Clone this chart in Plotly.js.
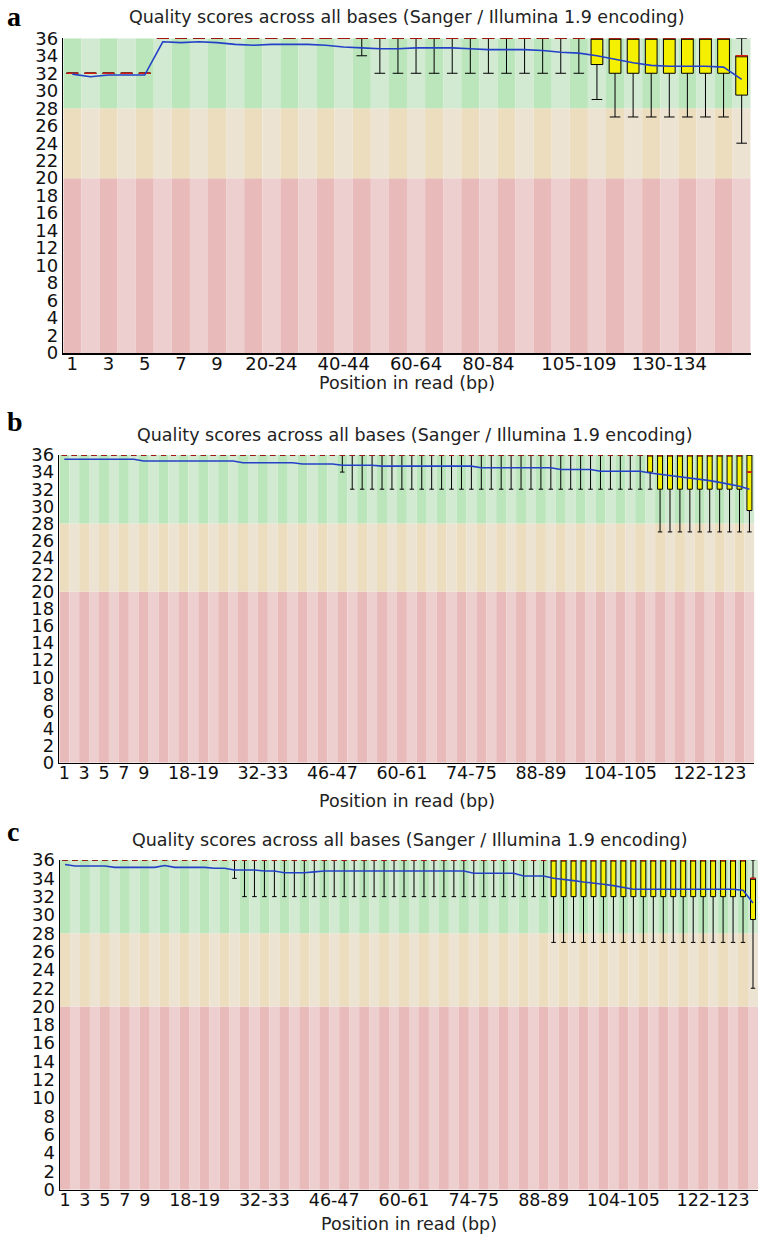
<!DOCTYPE html>
<html><head><meta charset="utf-8">
<script src="https://cdn.plot.ly/plotly-3.0.1.min.js"></script>
<style>html,body{margin:0;padding:0;background:#fff}#chart{width:765px;height:1238px}</style>
</head><body><div id="chart"></div>
<script>
// ================= DATA =================
// Panel a : per-position quality (Sanger / Illumina 1.9)
const catsA = ['1','2','3','4','5','6','7','8','9','10-14','15-19','20-24','25-29','30-34','35-39','40-44','45-49','50-54','55-59','60-64','65-69','70-74','75-79','80-84','85-89','90-94','95-99','100-104','105-109','110-114','115-119','120-124','125-129','130-134','135-139','140-144','145-149','150-151'];
const ticksA = ['1','3','5','7','9','20-24','40-44','60-64','80-84','105-109','130-134'];
const meanA = [31.9,31.6,31.8,31.8,31.8,35.6,35.5,35.6,35.5,35.3, 35.2,35.3,35.3,35.3,35.2,35.0,34.9,34.8,34.8,34.9, 34.9,34.9,34.8,34.7,34.7,34.7,34.6,34.4,34.3,34.0, 33.6,33.2,32.9,32.8,32.8,32.8,32.7,31.3];
const medA  = [32,32,32,32,32,36,36,36,36,36, 36,36,36,36,36,36,36,36,36,36, 36,36,36,36,36,36,36,36,36,36, 36,36,36,36,36,36,36,34];
const q1A   = [32,32,32,32,32,36,36,36,36,36, 36,36,36,36,36,36,36,36,36,36, 36,36,36,36,36,36,36,36,36,33, 32,32,32,32,32,32,32,29.5];
const q3A   = [32,32,32,32,32,36,36,36,36,36, 36,36,36,36,36,36,36,36,36,36, 36,36,36,36,36,36,36,36,36,36, 36,36,36,36,36,36,36,34];
const lowA  = [32,32,32,32,32,36,36,36,36,36, 36,36,36,36,36,36,34,32,32,32, 32,32,32,32,32,32,32,32,32,29, 27,27,27,27,27,27,27,24];
const highA = [32,32,32,32,32,36,36,36,36,36, 36,36,36,36,36,36,36,36,36,36, 36,36,36,36,36,36,36,36,36,36, 36,36,36,36,36,36,36,36];

// Panel b
const catsB = ['1','2','3','4','5','6','7','8','9','10-11','12-13','14-15','16-17','18-19','20-21','22-23','24-25','26-27','28-29','30-31','32-33','34-35','36-37','38-39','40-41','42-43','44-45','46-47','48-49','50-51','52-53','54-55','56-57','58-59','60-61','62-63','64-65','66-67','68-69','70-71','72-73','74-75','76-77','78-79','80-81','82-83','84-85','86-87','88-89','90-91','92-93','94-95','96-97','98-99','100-101','102-103','104-105','106-107','108-109','110-111','112-113','114-115','116-117','118-119','120-121','122-123','124-125','126-127','128-129','130-131'];
const ticksB = ['1','3','5','7','9','18-19','32-33','46-47','60-61','74-75','88-89','104-105','122-123'];
const meanB = [35.5,35.5,35.5,35.5,35.5,35.5,35.5,35.5,35.3,35.3, 35.3,35.3,35.3,35.3,35.3,35.3,35.3,35.3,35.1,35.1, 35.1,35.1,35.1,35.1,34.95,34.95,34.95,34.95,34.8,34.8, 34.8,34.8,34.7,34.7,34.7,34.7,34.7,34.7,34.7,34.7, 34.7,34.7,34.5,34.5,34.5,34.5,34.5,34.5,34.5,34.5, 34.3,34.3,34.3,34.3,34.1,34.1,34.1,34.1,34.1,33.9, 33.75,33.6,33.5,33.35,33.2,33.0,32.8,32.55,32.35,32.0];
const medB  = [36,36,36,36,36,36,36,36,36,36, 36,36,36,36,36,36,36,36,36,36, 36,36,36,36,36,36,36,36,36,36, 36,36,36,36,36,36,36,36,36,36, 36,36,36,36,36,36,36,36,36,36, 36,36,36,36,36,36,36,36,36,36, 36,36,36,36,36,36,36,36,36,34];
const q1B   = [36,36,36,36,36,36,36,36,36,36, 36,36,36,36,36,36,36,36,36,36, 36,36,36,36,36,36,36,36,36,36, 36,36,36,36,36,36,36,36,36,36, 36,36,36,36,36,36,36,36,36,36, 36,36,36,36,36,36,36,36,36,34, 32,32,32,32,32,32,32,32,32,29.5];
const q3B   = [36,36,36,36,36,36,36,36,36,36, 36,36,36,36,36,36,36,36,36,36, 36,36,36,36,36,36,36,36,36,36, 36,36,36,36,36,36,36,36,36,36, 36,36,36,36,36,36,36,36,36,36, 36,36,36,36,36,36,36,36,36,36, 36,36,36,36,36,36,36,36,36,36];
const lowB  = [36,36,36,36,36,36,36,36,36,36, 36,36,36,36,36,36,36,36,36,36, 36,36,36,36,36,36,36,36,34,32, 32,32,32,32,32,32,32,32,32,32, 32,32,32,32,32,32,32,32,32,32, 32,32,32,32,32,32,32,32,32,32, 27,27,27,27,27,27,27,27,27,27];
const highB = [36,36,36,36,36,36,36,36,36,36, 36,36,36,36,36,36,36,36,36,36, 36,36,36,36,36,36,36,36,36,36, 36,36,36,36,36,36,36,36,36,36, 36,36,36,36,36,36,36,36,36,36, 36,36,36,36,36,36,36,36,36,36, 36,36,36,36,36,36,36,36,36,36];

// Panel c
const catsC = catsB;
const ticksC = ['1','3','5','7','9','18-19','32-33','46-47','60-61','74-75','88-89','104-105','122-123'];
const meanC = [35.5,35.35,35.35,35.35,35.35,35.2,35.2,35.2,35.2,35.2, 35.4,35.2,35.2,35.2,35.2,35.1,35.1,34.9,34.9,34.9, 34.8,34.8,34.6,34.6,34.6,34.7,34.8,34.8,34.8,34.8, 34.8,34.8,34.8,34.8,34.8,34.8,34.8,34.8,34.8,34.8, 34.8,34.55,34.55,34.55,34.55,34.55,34.25,34.25,34.25,34.0, 33.9,33.75,33.6,33.5,33.35,33.2,33.0,32.8,32.8,32.8, 32.8,32.8,32.8,32.8,32.8,32.8,32.8,32.8,32.7,31.3];
const medC  = [36,36,36,36,36,36,36,36,36,36, 36,36,36,36,36,36,36,36,36,36, 36,36,36,36,36,36,36,36,36,36, 36,36,36,36,36,36,36,36,36,36, 36,36,36,36,36,36,36,36,36,36, 36,36,36,36,36,36,36,36,36,36, 36,36,36,36,36,36,36,36,36,34];
const q1C   = [36,36,36,36,36,36,36,36,36,36, 36,36,36,36,36,36,36,36,36,36, 36,36,36,36,36,36,36,36,36,36, 36,36,36,36,36,36,36,36,36,36, 36,36,36,36,36,36,36,36,36,32, 32,32,32,32,32,32,32,32,32,32, 32,32,32,32,32,32,32,32,32,29.5];
const q3C   = [36,36,36,36,36,36,36,36,36,36, 36,36,36,36,36,36,36,36,36,36, 36,36,36,36,36,36,36,36,36,36, 36,36,36,36,36,36,36,36,36,36, 36,36,36,36,36,36,36,36,36,36, 36,36,36,36,36,36,36,36,36,36, 36,36,36,36,36,36,36,36,36,34];
const lowC  = [36,36,36,36,36,36,36,36,36,36, 36,36,36,36,36,36,36,34,32,32, 32,32,32,32,32,32,32,32,32,32, 32,32,32,32,32,32,32,32,32,32, 32,32,32,32,32,32,32,32,32,27, 27,27,27,27,27,27,27,27,27,27, 27,27,27,27,27,27,27,27,27,22];
const highC = [36,36,36,36,36,36,36,36,36,36, 36,36,36,36,36,36,36,36,36,36, 36,36,36,36,36,36,36,36,36,36, 36,36,36,36,36,36,36,36,36,36, 36,36,36,36,36,36,36,36,36,36, 36,36,36,36,36,36,36,36,36,36, 36,36,36,36,36,36,36,36,36,36];

// Quality band edges (red / orange / green)
const bandEdges = [0, 20, 28, 36];

// ================= STYLE / LAYOUT =================
const W = 765, H = 1238;
const bandDark  = ['rgb(232,186,186)', 'rgb(235,221,190)', 'rgb(187,229,187)'];
const bandLight = ['rgb(237,207,207)', 'rgb(237,227,211)', 'rgb(210,233,210)'];
const FONT = 'DejaVu Sans, Verdana, sans-serif';
const titleText = 'Quality scores across all bases (Sanger / Illumina 1.9 encoding)';

const panels = [
  {id:'', letter:'a', cats:catsA, ticks:ticksA, mean:meanA, med:medA, q1:q1A, q3:q3A, lo:lowA, hi:highA,
   px:{l:63.3, r:750.7, t:38.3, b:353}, boxW:0.65, tickSize:18, ytickSize:18,
   titleY:17, titleX:407, xtitleY:383, letterY:17},
  {id:'2', letter:'b', cats:catsB, ticks:ticksB, mean:meanB, med:medB, q1:q1B, q3:q3B, lo:lowB, hi:highB,
   px:{l:59.3, r:754.4, t:455, b:762.7}, boxW:0.5, tickSize:17.5, ytickSize:18,
   titleY:435, titleX:415, xtitleY:801, letterY:422},
  {id:'3', letter:'c', cats:catsC, ticks:ticksC, mean:meanC, med:medC, q1:q1C, q3:q3C, lo:lowC, hi:highC,
   px:{l:60, r:758, t:860, b:1189.7}, boxW:0.5, tickSize:17.5, ytickSize:18,
   titleY:840, titleX:410, xtitleY:1224, letterY:831}
];

const traces = [];
const layout = {
  width: W, height: H, margin:{l:0,r:0,t:0,b:0},
  paper_bgcolor:'#fff', plot_bgcolor:'#fff',
  showlegend:false, hovermode:false, barmode:'overlay', boxmode:'overlay',
  annotations: []
};

panels.forEach(p => {
  const xa = 'x' + p.id, ya = 'y' + p.id;
  const idx = p.cats.map((_, i) => i);
  // background bands (alternating stripes per category)
  for (let b = 0; b < 3; b++) {
    traces.push({type:'bar', x: idx, base: idx.map(() => bandEdges[b]),
      y: idx.map(() => bandEdges[b+1] - bandEdges[b]), width: 1,
      marker:{color: idx.map(i => i % 2 === 0 ? bandDark[b] : bandLight[b]), line:{width:0}},
      xaxis: xa, yaxis: ya, hoverinfo:'skip'});
  }
  // boxes
  traces.push({type:'box', x: idx, q1: p.q1, median: p.med, q3: p.q3,
    lowerfence: p.lo, upperfence: p.hi, width: p.boxW, whiskerwidth: 0.9,
    fillcolor:'rgb(245,240,0)', line:{color:'#000', width:1}, boxpoints:false,
    xaxis: xa, yaxis: ya, hoverinfo:'skip'});
  // medians in red
  const mx = [], my = [];
  p.med.forEach((m, i) => { mx.push(i - p.boxW/2, i + p.boxW/2, null); my.push(m, m, null); });
  traces.push({type:'scatter', mode:'lines', x: mx, y: my, line:{color:'rgb(215,30,20)', width:1.6},
    xaxis: xa, yaxis: ya, hoverinfo:'skip', connectgaps:false});
  // mean line
  traces.push({type:'scatter', mode:'lines', x: idx, y: p.mean, line:{color:'rgb(35,65,200)', width:1.6},
    xaxis: xa, yaxis: ya, hoverinfo:'skip'});

  layout['xaxis' + p.id] = {
    domain:[p.px.l / W, p.px.r / W], range:[-0.5, p.cats.length - 0.5], anchor: ya,
    tickmode:'array', tickvals: p.ticks.map(t => p.cats.indexOf(t)), ticktext: p.ticks,
    showline:true, linecolor:'#000', linewidth:1.5, ticks:'', showgrid:false, zeroline:false,
    ticklabelstandoff:-6,
    tickfont:{family: FONT, size: p.tickSize, color:'#111'}, fixedrange:true
  };
  layout['yaxis' + p.id] = {
    domain:[1 - p.px.b / H, 1 - p.px.t / H], range:[0, 36], anchor: xa,
    tickmode:'linear', tick0:0, dtick:2,
    showline:true, linecolor:'#000', linewidth:1.5, ticks:'', showgrid:false, zeroline:false,
    tickfont:{family: FONT, size: p.ytickSize, color:'#111'}, fixedrange:true
  };
  layout.annotations.push(
    {text: titleText, xref:'paper', yref:'paper', x: p.titleX / W, y: 1 - p.titleY / H,
     xanchor:'center', yanchor:'middle', showarrow:false, font:{family: FONT, size:17.5, color:'#222'}},
    {text: 'Position in read (bp)', xref:'paper', yref:'paper', x: (p.px.l + p.px.r) / 2 / W, y: 1 - p.xtitleY / H,
     xanchor:'center', yanchor:'middle', showarrow:false, font:{family: FONT, size:17.5, color:'#222'}},
    {text: '<b>' + p.letter + '</b>', xref:'paper', yref:'paper', x: 5 / W, y: 1 - p.letterY / H,
     xanchor:'left', yanchor:'middle', showarrow:false, font:{family:'Liberation Serif, Times New Roman, serif', size:28, color:'#000'}}
  );
});

Plotly.newPlot('chart', traces, layout, {displayModeBar:false, staticPlot:true});
</script>
</body></html>
